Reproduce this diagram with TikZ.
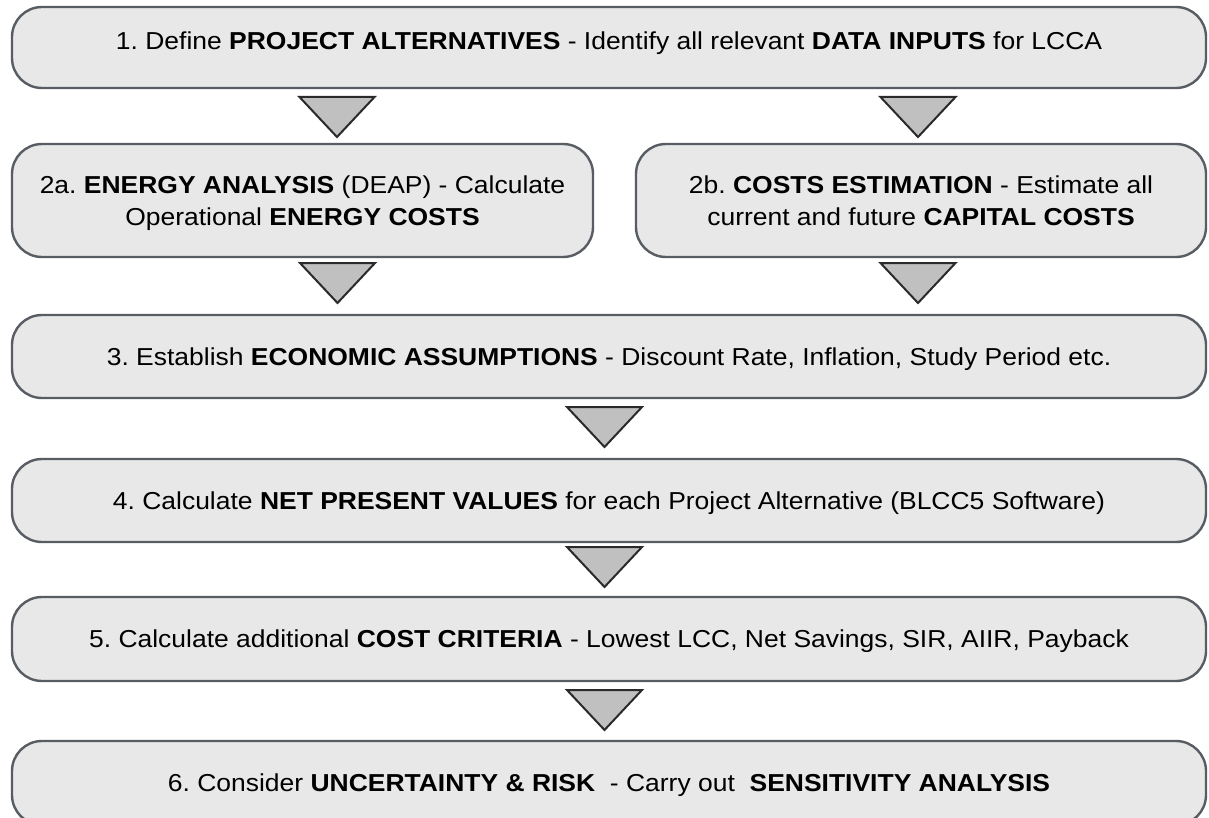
\documentclass[tikz,border=0pt]{standalone}
\usepackage{fontspec}
\setmainfont[FakeStretch=1.08]{Liberation Sans}
\definecolor{boxfill}{HTML}{E8E8E8}
\definecolor{boxline}{HTML}{585C63}
\definecolor{trifill}{HTML}{C0C0C0}
\definecolor{triline}{HTML}{2A2A2A}
\tikzset{
  stepbox/.style={draw=boxline, line width=2.4pt, fill=boxfill, rounded corners=30pt,
    rectangle, inner sep=0pt, align=center, text=black,
    font=\fontsize{24.5pt}{32pt}\selectfont},
  onerow/.style={text height=17pt, text depth=0pt},
  downtri/.style={draw=triline, line width=2pt, fill=trifill, line join=miter}
}
\newcommand{\downarrowtri}[1]{%
  \draw[downtri] (#1) ++(-37.5,0) -- ++(75,0) -- ++(-37.5,40) -- cycle;}
\begin{document}
\frenchspacing
\begin{tikzpicture}[x=1pt, y=-1pt]
  \useasboundingbox (0,0) rectangle (1209,818);
  \clip (0,0) rectangle (1209,818);
  \fill[white] (0,0) rectangle (1209,818);

  % process steps
  \node[stepbox, onerow, text depth=12pt, minimum width=1194pt, minimum height=81pt]
    (s1) at (609,47.5)
    {1. Define \textbf{PROJECT ALTERNATIVES} - Identify all relevant \textbf{DATA INPUTS} for LCCA};
  \node[stepbox, minimum width=581pt, minimum height=113pt, text depth=0pt] (s2a) at (302.5,200.5)
    {2a. \textbf{ENERGY ANALYSIS} (DEAP) - Calculate\\Operational \textbf{ENERGY COSTS}};
  \node[stepbox, minimum width=570pt, minimum height=113pt, text depth=0pt] (s2b) at (921,200.5)
    {2b. \textbf{COSTS ESTIMATION} - Estimate all\\current and future \textbf{CAPITAL COSTS}};
  \node[stepbox, onerow, minimum width=1194pt, minimum height=83pt] (s3) at (609,356.5)
    {3. Establish \textbf{ECONOMIC ASSUMPTIONS} - Discount Rate, Inflation, Study Period etc.};
  \node[stepbox, onerow, minimum width=1194pt, minimum height=83pt] (s4) at (609,500.5)
    {4. Calculate \textbf{NET PRESENT VALUES} for each Project Alternative (BLCC5 Software)};
  \node[stepbox, onerow, minimum width=1194pt, minimum height=84pt] (s5) at (609,639)
    {5. Calculate additional \textbf{COST CRITERIA} - Lowest LCC, Net Savings, SIR, AIIR, Payback};
  \node[stepbox, onerow, minimum width=1194pt, minimum height=84pt] (s6) at (609,783)
    {6. Consider \textbf{UNCERTAINTY \& RISK}~ - Carry out~ \textbf{SENSITIVITY ANALYSIS}};

  % flow markers between the steps
  \coordinate (t1a) at (337,97);
  \coordinate (t1b) at (918,97);
  \coordinate (t2a) at (337.5,263);
  \coordinate (t2b) at (918,263);
  \coordinate (t3) at (604.5,407);
  \coordinate (t4) at (604.5,547);
  \coordinate (t5) at (604.5,690);
  \downarrowtri{t1a}
  \downarrowtri{t1b}
  \downarrowtri{t2a}
  \downarrowtri{t2b}
  \downarrowtri{t3}
  \downarrowtri{t4}
  \downarrowtri{t5}
\end{tikzpicture}
\end{document}
